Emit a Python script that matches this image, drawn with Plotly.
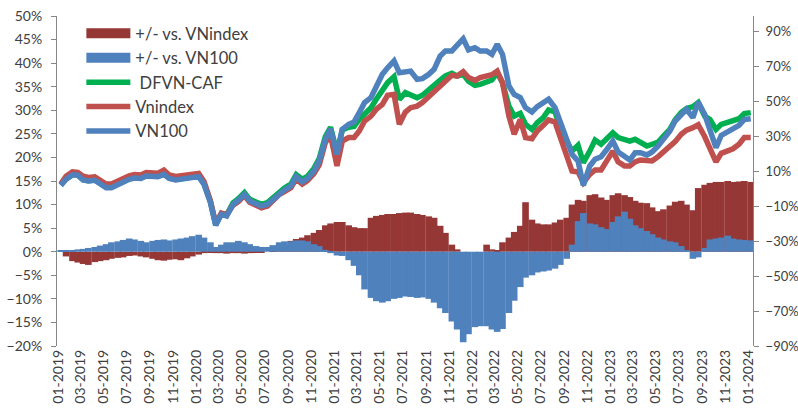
import plotly.graph_objects as go
import pandas as pd

# Semi-monthly observation dates (8th and 22nd of each month), Jan 2019 - Jan 2024
dates = pd.date_range("2019-01-01", "2024-01-01", freq="SMS") + pd.Timedelta(days=7)

# Cumulative returns (%), right axis
dfvn_caf = [
    2.0, 5.5, 8.0, 7.8, 5.0, 4.5, 4.9, 3.2, 0.8, 0.8, 2.7, 3.7,
    5.6, 6.3, 6.0, 7.4, 7.4, 7.0, 8.3, 6.0, 5.2, 5.6, 5.6, 6.0,
    7.2, 2.9, -7.5, -20.5, -14.3, -15.0, -8.2, -5.8, -2.4, -6.2, -8.0, -9.0,
    -8.0, -5.2, -1.7, 0.3, 2.6, 8.0, 5.3, 7.0, 11.5, 17.2, 29.5, 35.0,
    20.5, 33.5, 35.0, 35.5, 39.5, 42.4, 46.2, 51.0, 55.7, 60.5, 63.9, 51.0,
    54.8, 53.3, 51.9, 53.3, 56.7, 59.5, 62.0, 64.3, 65.8, 64.3, 65.3, 61.4,
    59.0, 59.5, 60.5, 62.0, 66.2, 60.5, 47.1, 41.4, 43.0, 36.7, 33.8, 37.6,
    40.5, 44.9, 43.8, 34.8, 27.1, 21.4, 24.7, 14.8, 21.4, 27.7, 25.3, 28.7,
    31.9, 29.1, 28.1, 27.1, 28.1, 26.2, 24.3, 25.3, 26.5, 30.0, 33.8, 39.2,
    43.4, 45.7, 46.8, 49.1, 41.4, 39.5, 33.8, 36.7, 37.6, 38.6, 39.9, 42.8,
    43.4,
]
vnindex = [
    2.5, 7.0, 9.5, 9.2, 7.0, 6.3, 6.7, 5.0, 2.6, 2.6, 4.4, 5.4,
    7.3, 8.0, 7.7, 9.2, 9.2, 8.8, 10.5, 7.7, 6.9, 7.3, 7.3, 8.0,
    8.6, 4.0, -7.0, -20.0, -14.0, -15.0, -9.5, -7.5, -4.0, -7.8, -9.8, -11.0,
    -10.0, -7.0, -3.5, -1.8, 0.4, 5.5, 2.5, 4.5, 8.5, 13.5, 26.2, 30.4,
    12.9, 27.1, 29.1, 29.1, 32.9, 38.6, 41.4, 45.3, 48.1, 53.3, 53.8, 36.7,
    43.7, 46.2, 47.1, 49.1, 52.5, 55.7, 58.6, 61.4, 64.7, 64.3, 66.8, 63.4,
    61.8, 63.4, 64.3, 65.0, 67.1, 60.5, 41.4, 31.0, 39.5, 29.1, 28.5, 32.9,
    36.1, 39.2, 38.0, 29.1, 16.7, 10.0, 9.4, 3.4, 8.1, 10.6, 10.6, 15.8,
    21.4, 15.2, 12.9, 12.9, 15.2, 16.3, 15.8, 15.8, 18.2, 20.9, 23.4, 26.8,
    31.0, 33.4, 34.8, 36.5, 29.7, 22.0, 15.2, 20.1, 21.4, 22.7, 25.3, 29.1,
    29.1,
]
vn100 = [
    1.8, 5.3, 7.8, 7.6, 4.9, 4.3, 4.7, 3.0, 0.5, 0.5, 2.4, 3.4,
    5.3, 6.0, 5.7, 7.2, 7.2, 6.8, 8.1, 5.7, 4.9, 5.3, 5.3, 5.7,
    6.8, 2.4, -8.0, -21.0, -14.8, -15.7, -9.0, -6.7, -3.3, -7.1, -9.0, -10.0,
    -9.0, -6.2, -2.7, -0.8, 1.4, 6.8, 3.8, 5.7, 10.0, 15.8, 28.0, 34.0,
    19.5, 33.8, 36.7, 38.0, 43.4, 49.1, 52.0, 58.6, 65.3, 69.0, 72.9, 66.2,
    66.6, 67.1, 62.4, 62.8, 65.3, 68.1, 75.7, 78.6, 78.6, 81.4, 85.6, 79.2,
    80.5, 78.6, 78.6, 76.7, 82.4, 76.7, 58.6, 53.8, 52.0, 46.2, 43.8, 46.8,
    49.5, 51.0, 46.2, 38.6, 28.1, 19.5, 15.7, 1.8, 12.9, 16.7, 18.2, 22.0,
    27.1, 20.9, 18.6, 16.3, 20.5, 20.5, 19.2, 20.9, 24.3, 28.1, 32.9, 38.6,
    42.4, 45.3, 40.5, 49.5, 42.4, 33.8, 23.4, 30.4, 32.3, 34.2, 36.1, 39.5,
    39.9,
]

# Relative performance (%), left axis
diff_vs_vnindex = [
    0.0, -1.0, -2.0, -2.3, -2.6, -2.8, -2.2, -2.0, -1.8, -1.5, -1.3, -1.2,
    -0.9, -0.8, -1.0, -1.2, -1.5, -1.8, -1.9, -1.7, -1.6, -1.8, -1.4, -1.0,
    -0.6, -0.3, -0.2, -0.3, -0.3, -0.4, -0.3, -0.3, -0.4, -0.3, -0.2, -0.2,
    0.0, 0.3, 0.8, 1.3, 2.3, 2.7, 3.0, 3.5, 4.0, 4.6, 5.6, 6.0,
    6.3, 6.3, 5.6, 5.2, 5.0, 5.0, 7.2, 7.6, 7.8, 8.0, 8.0, 8.2,
    8.3, 8.3, 8.0, 7.8, 7.5, 7.2, 5.5, 4.0, 1.5, 0.5, 0.0, 0.0,
    0.0, 0.0, 1.5, 0.5, 0.3, 2.0, 3.0, 4.2, 5.5, 10.5, 6.8, 6.0,
    5.8, 5.8, 6.2, 6.8, 7.2, 10.0, 11.0, 10.8, 12.0, 12.2, 11.5, 11.0,
    12.0, 12.4, 12.0, 11.6, 10.8, 10.4, 10.3, 9.4, 8.6, 9.0, 9.8, 10.6,
    10.8, 10.0, 8.8, 13.5, 14.2, 14.6, 14.8, 14.8, 15.0, 14.8, 14.9, 15.0,
    14.8,
]
diff_vs_vn100 = [
    0.3, 0.2, 0.3, 0.5, 0.6, 0.8, 1.0, 1.3, 1.6, 2.0, 2.2, 2.5,
    2.8, 2.6, 2.3, 2.0, 2.3, 2.5, 2.6, 2.4, 2.6, 2.8, 3.0, 3.3,
    3.6, 3.0, 2.0, 1.0, 1.5, 2.0, 2.0, 2.3, 2.0, 1.6, 1.2, 1.0,
    1.0, 1.4, 2.0, 2.2, 2.2, 2.4, 2.4, 2.2, 1.6, 1.2, 0.4, -0.3,
    -0.8, -0.9, -1.8, -3.0, -5.0, -8.0, -9.8, -10.5, -10.8, -10.5, -10.0, -9.8,
    -9.5, -9.6, -9.8, -9.7, -10.0, -10.8, -12.0, -13.0, -14.8, -16.5, -19.2, -17.5,
    -16.0, -15.8, -15.8, -16.5, -17.0, -16.4, -13.0, -10.4, -7.5, -5.5, -5.0, -4.4,
    -4.2, -4.0, -3.6, -2.8, -1.5, 1.5, 6.5, 8.2, 6.0, 5.8, 5.2, 4.8,
    6.3, 7.5, 8.5, 7.0, 5.6, 5.0, 4.4, 3.7, 3.0, 2.6, 2.2, 2.0,
    1.2, 0.3, -1.5, -1.2, 0.8, 2.6, 2.8, 3.0, 3.4, 2.8, 2.6, 2.5,
    2.4,
]

names = ["+/- vs. VNindex", "+/- vs. VN100", "\u00a0DFVN-CAF", "Vnindex", "VN100"]

RED_BAR = "#953735"
BLUE_BAR = "#4F81BD"
GREEN = "#00B050"
RED_LINE = "#C0504D"
BLUE_LINE = "#4F81BD"
FONT = "Lato"
TXT = "#404040"
AXC = "#868686"

bar_width = 17.5 * 86400000

fig = go.Figure()
fig.add_bar(x=dates, y=diff_vs_vnindex, marker=dict(color=RED_BAR, line=dict(width=0)),
            width=bar_width, showlegend=False, name=names[0])
fig.add_bar(x=dates, y=diff_vs_vn100, marker=dict(color=BLUE_BAR, line=dict(width=0)),
            width=bar_width, showlegend=False, name=names[1])
# legend keys for the bar series (wide filled swatches)
fig.add_scatter(x=[None], y=[None], mode="lines", line=dict(color=RED_BAR, width=11),
                name=names[0])
fig.add_scatter(x=[None], y=[None], mode="lines", line=dict(color=BLUE_BAR, width=11),
                name=names[1])
fig.add_scatter(x=dates, y=dfvn_caf, yaxis="y2", mode="lines",
                line=dict(color=GREEN, width=5.5), name=names[2])
fig.add_scatter(x=dates, y=vnindex, yaxis="y2", mode="lines",
                line=dict(color=RED_LINE, width=5.5), name=names[3])
fig.add_scatter(x=dates, y=vn100, yaxis="y2", mode="lines",
                line=dict(color=BLUE_LINE, width=5.5), name=names[4])

fig.update_layout(
    width=798, height=409,
    margin=dict(l=57, r=45, t=16, b=63, autoexpand=False),
    paper_bgcolor="white", plot_bgcolor="white",
    barmode="overlay",
    font=dict(family=FONT, color=TXT, size=14),
    legend=dict(x=0.035, y=1.0, xanchor="left", yanchor="top",
                bgcolor="rgba(0,0,0,0)", font=dict(size=16.5, color=TXT),
                itemwidth=44, traceorder="normal"),
    xaxis=dict(type="date", range=["2018-12-29", "2024-01-14"],
               tick0="2019-01-01", dtick="M2", tickformat="%m-%Y",
               tickangle=-90, showgrid=False, showline=False, ticks="",
               zeroline=False, automargin=False, tickfont=dict(size=14)),
    yaxis=dict(range=[-20, 50], tick0=0, dtick=5, ticksuffix="%",
               showgrid=False, zeroline=False, showline=True, linecolor=AXC,
               linewidth=1, ticks="outside", ticklen=5, tickcolor=AXC,
               ticklabelstandoff=6, automargin=False, tickfont=dict(size=14)),
    yaxis2=dict(range=[-90, 98.6], tick0=-90, dtick=20, ticksuffix="%",
                overlaying="y", side="right", showgrid=False, zeroline=False,
                showline=True, linecolor=AXC, linewidth=1, ticks="outside",
                ticklen=5, tickcolor=AXC, ticklabelstandoff=4, automargin=False,
                tickfont=dict(size=13)),
)

fig.write_html("out.html", config={"displayModeBar": False},
               post_script="document.body.style.margin='0';")
